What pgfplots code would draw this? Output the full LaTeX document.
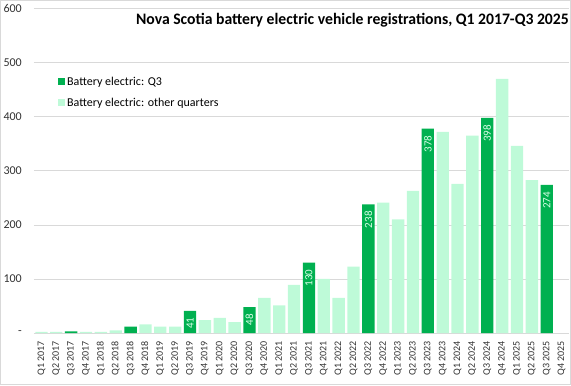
\documentclass[border=0pt]{standalone}
\usepackage{pgfplots}
\usepackage{pgfplotstable}
\pgfplotsset{compat=1.18}
\usepackage{fontspec}
\setmainfont{Carlito}
\newfontfamily\titlefont[FakeStretch=0.98]{Carlito}
\definecolor{qgreen}{RGB}{0,176,80}
\definecolor{ogreen}{RGB}{190,250,216}
\definecolor{gridgray}{RGB}{217,217,217}
\definecolor{lblgreen}{RGB}{215,255,230}
\definecolor{ticktext}{RGB}{50,50,50}

\pgfplotstableread{
x y
0 2
1 2
3 2
4 2
5 5
7 16
8 12
9 12
11 24
12 28
13 20
15 65
16 51
17 89
19 100
20 65
21 123
23 241
24 210
25 263
27 372
28 276
29 365
31 470
32 346
33 283
}\othertable

\pgfplotstableread{
x y
2 3
6 12
}\qearly

\pgfplotstableread{
x y
10 41
14 48
18 130
22 238
26 378
30 398
34 274
}\qlate

\begin{document}
\begin{tikzpicture}
\begin{axis}[
  name=ax,
  scale only axis,
  width=535pt, height=324.3pt,
  xmin=-0.5, xmax=35.5, ymin=0, ymax=600,
  ybar, bar width=0.83,
  /pgf/number format/assume math mode=true,
  ytick={0,100,...,600},
  yticklabels={-\hspace{5pt},100,200,300,400,500,600},
  xtick={0,...,35},
  xticklabels={Q1 2017,Q2 2017,Q3 2017,Q4 2017,Q1 2018,Q2 2018,Q3 2018,Q4 2018,Q1 2019,Q2 2019,Q3 2019,Q4 2019,Q1 2020,Q2 2020,Q3 2020,Q4 2020,Q1 2021,Q2 2021,Q3 2021,Q4 2021,Q1 2022,Q2 2022,Q3 2022,Q4 2022,Q1 2023,Q2 2023,Q3 2023,Q4 2023,Q1 2024,Q2 2024,Q3 2024,Q4 2024,Q1 2025,Q2 2025,Q3 2025,Q4 2025},
  ymajorgrids,
  grid style={gridgray, line width=0.75pt},
  axis line style={draw=none},
  major tick length=0pt,
  tick label style={text=ticktext},
  yticklabel style={font=\fontsize{12}{12}\selectfont, anchor=east, inner sep=0pt},
  yticklabel shift=12pt,
  xticklabel style={font=\fontsize{10}{10}\selectfont, rotate=90, anchor=east, inner sep=0pt},
  xticklabel shift=8pt,
  clip=false,
  legend cell align=left,
  legend image code/.code={\fill[#1] (0pt,-3.5pt) rectangle (7pt,3.5pt);},
  legend style={at={(rel axis cs:0,1)}, anchor=north west, xshift=24pt, yshift=-66pt,
    draw=none, fill=none, font=\fontsize{12}{12}\selectfont, row sep=7pt, inner sep=0pt},
]
\addplot[fill=qgreen, draw=none, bar shift=0pt,
  nodes near coords,
  every node near coord/.append style={rotate=90, anchor=east, inner sep=0pt, outer xsep=7pt,
    font=\fontsize{11}{11}\selectfont, text=lblgreen}] table[x=x,y=y] {\qlate};
\addlegendentry{Battery electric: Q3}
\addplot[fill=ogreen, draw=none, bar shift=0pt] table[x=x,y=y] {\othertable};
\addlegendentry{Battery electric: other quarters}
\addplot[fill=qgreen, draw=none, bar shift=0pt, forget plot] table[x=x,y=y] {\qearly};
\node[anchor=base east, inner sep=0pt, font=\titlefont\bfseries\fontsize{16}{16}\selectfont, text=black]
  at ([yshift=-16.3pt]rel axis cs:1,1) {Nova Scotia battery electric vehicle registrations, Q1 2017-Q3 2025};
\end{axis}
\draw[gridgray, line width=1pt] ([xshift=-33.5pt, yshift=-51.5pt]ax.south west) rectangle ([xshift=1.5pt, yshift=8.2pt]ax.north east);
\end{tikzpicture}
\end{document}
